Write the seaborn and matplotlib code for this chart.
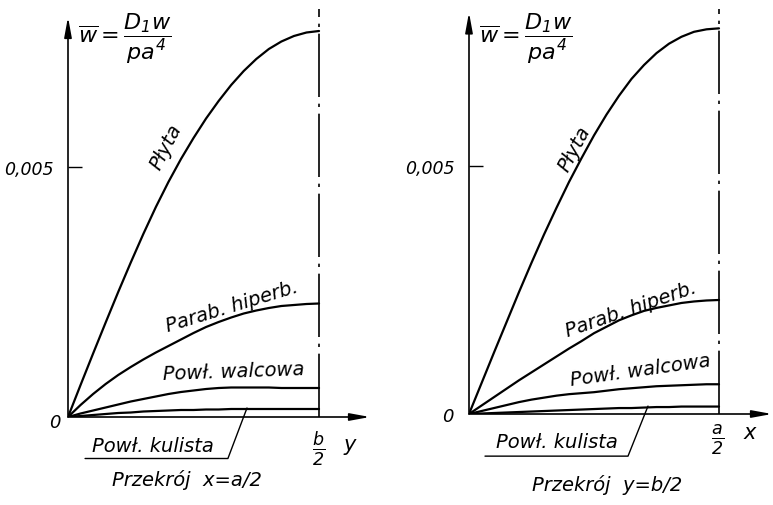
import numpy as np
import pandas as pd
import seaborn as sns
import matplotlib.pyplot as plt

sns.set_style('white')
plt.rcParams['font.family'] = ['DejaVu Sans']
plt.rcParams['font.style'] = 'italic'
plt.rcParams['mathtext.fontset'] = 'dejavusans'
plt.rcParams['text.color'] = 'black'

# position along the section, 0 -> 0, 1 -> b/2 (left) or a/2 (right)
pos = [0, 0.05, 0.10, 0.15, 0.20, 0.25, 0.30, 0.35, 0.40, 0.45, 0.50,
       0.55, 0.60, 0.65, 0.70, 0.75, 0.80, 0.85, 0.90, 0.95, 1.00]

# section x = a/2
plyta_l = [0, 0.00064, 0.00127, 0.00189, 0.00250, 0.00309, 0.00366, 0.00420, 0.00470, 0.00516, 0.00558,
           0.00597, 0.00632, 0.00664, 0.00692, 0.00716, 0.00736, 0.00751, 0.00762, 0.00769, 0.00772]
parab_l = [0, 0.00024, 0.00046, 0.00066, 0.00084, 0.00100, 0.00115, 0.00129, 0.00142, 0.00155, 0.00168,
           0.00180, 0.00190, 0.00199, 0.00207, 0.00213, 0.00218, 0.00222, 0.00224, 0.00226, 0.00227]
walc_l = [0, 0.00007, 0.00013, 0.00019, 0.00025, 0.00031, 0.00036, 0.00041, 0.00046, 0.00050, 0.00053,
          0.00056, 0.00058, 0.00059, 0.00059, 0.00059, 0.00059, 0.00058, 0.00058, 0.00058, 0.00058]
kul_l = [0, 0.00002, 0.00004, 0.00006, 0.00008, 0.00009, 0.00011, 0.00012, 0.00013, 0.00014, 0.00014,
         0.00015, 0.00015, 0.00016, 0.00016, 0.00016, 0.00016, 0.00016, 0.00016, 0.00016, 0.00016]

# section y = b/2
plyta_r = [0, 0.00062, 0.00124, 0.00185, 0.00246, 0.00305, 0.00362, 0.00416, 0.00468, 0.00516, 0.00562,
           0.00604, 0.00642, 0.00676, 0.00704, 0.00728, 0.00747, 0.00761, 0.00771, 0.00776, 0.00778]
parab_r = [0, 0.00017, 0.00034, 0.00051, 0.00068, 0.00084, 0.00100, 0.00116, 0.00132, 0.00147, 0.00163,
           0.00176, 0.00189, 0.00199, 0.00208, 0.00214, 0.00219, 0.00224, 0.00227, 0.00229, 0.00230]
walc_r = [0, 0.00006, 0.00012, 0.00018, 0.00024, 0.00029, 0.00033, 0.00037, 0.00040, 0.00042, 0.00044,
          0.00047, 0.00050, 0.00052, 0.00054, 0.00056, 0.00057, 0.00058, 0.00059, 0.00060, 0.00060]
kul_r = [0, 0.00001, 0.00002, 0.00003, 0.00004, 0.00005, 0.00006, 0.00007, 0.00008, 0.00009, 0.00010,
         0.00011, 0.00012, 0.00012, 0.00013, 0.00014, 0.00014, 0.00015, 0.00015, 0.00015, 0.00015]

names = ['Płyta', 'Parab. hiperb.', 'Powł. walcowa', 'Powł. kulista']
ytick = 0.005
x_end = 1.0


def long_df(series):
    rows = []
    for name, vals in zip(names, series):
        for p, v in zip(pos, vals):
            rows.append((name, p, v))
    return pd.DataFrame(rows, columns=['curve', 'pos', 'w'])


fig = plt.figure(figsize=(7.73, 5.06), dpi=100)
W, H = 773, 506

panels = [
    dict(rect=(68, 418, 370, 10), xmax=1.203, ymax=0.00816, arrow_top=0.0080,
         data=[plyta_l, parab_l, walc_l, kul_l], end_lab=r'$\frac{b}{2}$', axis_lab='y',
         caption='Przekrój  x=a/2',
         lab=[(0.392, 0.00542, 63), (0.652, 0.00222, 17), (0.660, 0.00092, 2)],
         kul=(0.339, -0.00058), under=(0.068, 0.637, -0.00083), lead=(0.713, 0.00018),
         cap=(0.474, -0.00124), zero=(-0.03, -0.0001), endpos=(1.0, -0.00062), axpos=(1.124, -0.00054)),
    dict(rect=(469, 415, 772, 10), xmax=1.212, ymax=0.00817, arrow_top=0.0081,
         data=[plyta_r, parab_r, walc_r, kul_r], end_lab=r'$\frac{a}{2}$', axis_lab='x',
         caption='Przekrój  y=b/2',
         lab=[(0.420, 0.00536, 62), (0.646, 0.00212, 19), (0.686, 0.00090, 8)],
         kul=(0.352, -0.00056), under=(0.064, 0.636, -0.00085), lead=(0.716, 0.00016),
         cap=(0.552, -0.00141), zero=(-0.06, -0.00004), endpos=(0.996, -0.0005), axpos=(1.124, -0.00036)),
]

for p in panels:
    x0, y0, x1, y1 = p['rect']
    ax = fig.add_axes([x0 / W, (H - y0) / H, (x1 - x0) / W, (y0 - y1) / H])
    ax.set_facecolor('none')
    df = long_df(p['data'])
    sns.lineplot(data=df, x='pos', y='w', hue='curve', palette={n: 'black' for n in names},
                 legend=False, sort=False, lw=1.6, ax=ax)
    ax.set_xlim(0, p['xmax'])
    ax.set_ylim(0, p['ymax'])
    for s in ax.spines.values():
        s.set_visible(False)
    ax.set_xlabel('')
    ax.set_ylabel('')
    ax.set_xticks([])
    ax.set_yticks([ytick])
    ax.set_yticklabels(['0,005'])
    ax.tick_params(axis='y', left=True, direction='in', length=10, width=1.0, pad=10,
                   labelsize=12.5, colors='black')

    # axes with arrows
    arr = dict(arrowstyle='-|>,head_length=1.2,head_width=0.22', lw=1.2, color='black',
               shrinkA=0, shrinkB=0)
    ax.annotate('', xy=(p['xmax'], 0), xytext=(0, 0), arrowprops=arr, annotation_clip=False)
    ax.annotate('', xy=(0, p['arrow_top']), xytext=(0, 0), arrowprops=arr, annotation_clip=False)

    # end of section (dash-dot)
    ax.vlines(x_end, 0, p['ymax'], colors='black', lw=1.2, linestyles=(0, (38, 4, 2, 4)))

    # labels on curves
    for (tx, ty, rot), name in zip(p['lab'], names[:3]):
        ax.text(tx, ty, name, rotation=rot, rotation_mode='anchor', ha='center', va='center',
                fontsize=14, color='black')
    ax.text(p['kul'][0], p['kul'][1], names[3], ha='center', va='center', fontsize=14, color='black')
    ux0, ux1, uy = p['under']
    ax.plot([ux0, ux1, p['lead'][0]], [uy, uy, p['lead'][1]], color='black', lw=1.0, clip_on=False)

    ax.text(p['cap'][0], p['cap'][1], p['caption'], ha='center', va='center', fontsize=14, color='black')
    ax.text(p['zero'][0], p['zero'][1], '0', ha='right', va='center', fontsize=13, color='black')
    ax.text(p['endpos'][0], p['endpos'][1], p['end_lab'], ha='center', va='center', fontsize=18, color='black')
    ax.text(p['axpos'][0], p['axpos'][1], p['axis_lab'], ha='center', va='center', fontsize=15, color='black')
    ax.text(0.04, p['ymax'] - 0.00058, r'$\overline{w}=\dfrac{D_1w}{pa^4}$', ha='left', va='center',
            fontsize=16, color='black')

fig.savefig('out.png', dpi=100)
